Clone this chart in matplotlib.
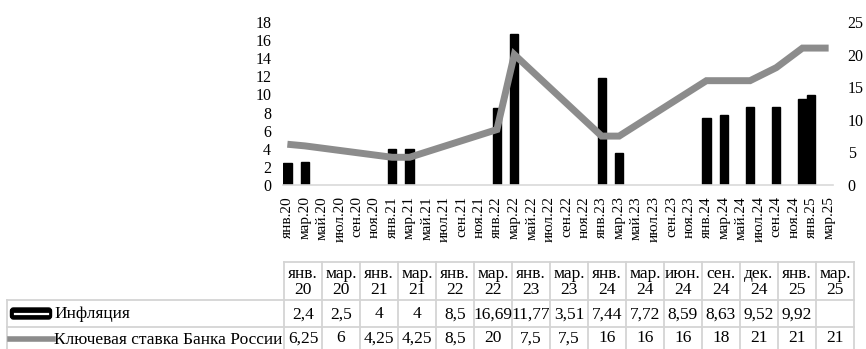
import numpy as np
import matplotlib
matplotlib.use("Agg")
import matplotlib.pyplot as plt
from matplotlib.patches import FancyBboxPatch

plt.rcParams['font.family'] = ['Liberation Serif', 'DejaVu Serif']

# data (from the table under the chart)
years = [2020, 2020, 2021, 2021, 2022, 2022, 2023, 2023, 2024, 2024, 2024, 2024, 2024, 2025, 2025]
months = [1, 3, 1, 3, 1, 3, 1, 3, 1, 3, 6, 9, 12, 1, 3]
col_labels = ["янв.\n20", "мар.\n20", "янв.\n21", "мар.\n21", "янв.\n22", "мар.\n22", "янв.\n23",
              "мар.\n23", "янв.\n24", "мар.\n24", "июн.\n24", "сен.\n24", "дек.\n24", "янв.\n25", "мар.\n25"]
inflation = [2.4, 2.5, 4, 4, 8.5, 16.69, 11.77, 3.51, 7.44, 7.72, 8.59, 8.63, 9.52, 9.92, None]
key_rate = [6.25, 6, 4.25, 4.25, 8.5, 20, 7.5, 7.5, 16, 16, 16, 18, 21, 21, 21]
series_names = ["Инфляция", "Ключевая ставка Банка России"]

# axis tick labels, every two months
mon_names = ["янв", "мар", "май", "июл", "сен", "ноя"]
tick_labels = [f"{m}.{y}" for y in range(20, 26) for m in mon_names][:32]

# month index from jan 2020
x = np.array([(y - 2020) * 12 + (m - 1) for y, m in zip(years, months)])

fig = plt.figure(figsize=(8.66, 3.49), dpi=100)
W, H = 866, 349

ax = fig.add_axes([283 / W, 1 - 185 / H, (833 - 283) / W, (185 - 22) / H])
ax2 = ax.twinx()

bx = [xi for xi, v in zip(x, inflation) if v is not None]
bv = [v for v in inflation if v is not None]
ax.bar(bx, bv, width=0.95, color="black", edgecolor="black", zorder=2)
ax2.plot(x, key_rate, color="#8c8c8c", lw=5, solid_joinstyle="miter", solid_capstyle="butt", zorder=3)

ax.set_xlim(-0.5, 62.5)
ax.set_ylim(0, 18)
ax2.set_ylim(0, 25)
ax.set_yticks(range(0, 19, 2))
ax2.set_yticks(range(0, 26, 5))
ax.set_xticks(range(0, 63, 2))
ax.set_xticklabels(tick_labels, rotation=90, fontsize=11)
ax.tick_params(axis="x", length=0, pad=8)
ax.tick_params(axis="y", length=0, pad=8.5, labelsize=11.5)
ax2.tick_params(axis="y", length=0, pad=10.5, labelsize=11.5)
for a in (ax, ax2):
    for s in a.spines.values():
        s.set_visible(False)
ax.spines["bottom"].set_visible(True)
ax.spines["bottom"].set_color("#d9d9d9")
ax.spines["bottom"].set_linewidth(1.2)

# data table below the chart (pixel layout)
tab = fig.add_axes([0, 0, 1, 1])
tab.set_xlim(0, W)
tab.set_ylim(H, 0)
tab.axis("off")

col_x0, col_w = 284, 38
left_x = 7
row_y = [262, 300, 327, 352]
ncol = len(col_labels)
gc = "#d4d4d4"
right_x = col_x0 + ncol * col_w

# grid lines
tab.plot([col_x0, right_x], [row_y[0]] * 2, color=gc, lw=1.3)
for yy in row_y[1:]:
    tab.plot([left_x, right_x], [yy] * 2, color=gc, lw=1.3)
tab.plot([left_x, left_x], [row_y[1], row_y[3]], color=gc, lw=1.3)
for i in range(ncol + 1):
    tab.plot([col_x0 + i * col_w] * 2, [row_y[0], row_y[3]], color=gc, lw=1.3)

def fmt(v):
    if v is None:
        return ""
    s = f"{v:g}"
    return s.replace(".", ",")

fs = 12.5
for i, lab in enumerate(col_labels):
    cx = col_x0 + (i + 0.5) * col_w
    tab.text(cx, (row_y[0] + row_y[1]) / 2 + 1, lab, ha="center", va="center",
             fontsize=fs, linespacing=1.0)
    tab.text(cx, (row_y[1] + row_y[2]) / 2 + 1, fmt(inflation[i]), ha="center", va="center", fontsize=fs)
    tab.text(cx, (row_y[2] + row_y[3]) / 2 - 1, fmt(key_rate[i]), ha="center", va="center", fontsize=fs)

# legend keys
ky1 = (row_y[1] + row_y[2]) / 2
ky2 = (row_y[2] + row_y[3]) / 2 - 1
tab.add_patch(FancyBboxPatch((12, ky1 - 4), 38, 8, boxstyle="round,pad=1.5,rounding_size=3",
                             facecolor="black", edgecolor="black"))
tab.plot([15, 48], [ky1, ky1], color="white", lw=1.6)
tab.plot([10, 53], [ky2, ky2], color="#8c8c8c", lw=4)
tab.text(54, ky1 + 1, series_names[0], ha="left", va="center", fontsize=fs)
tab.text(54, ky2 + 1, series_names[1], ha="left", va="center", fontsize=fs)

fig.savefig("out.png", dpi=100)
